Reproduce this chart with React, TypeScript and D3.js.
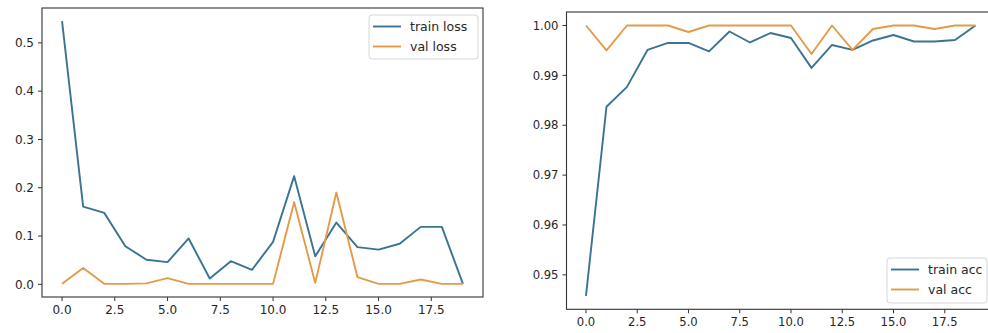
import React from "react";
import * as d3 from "d3";

const epochs = [0, 1, 2, 3, 4, 5, 6, 7, 8, 9, 10, 11, 12, 13, 14, 15, 16, 17, 18, 19];
const trainLoss = [0.545, 0.161, 0.148, 0.079, 0.051, 0.046, 0.095, 0.012, 0.048, 0.030, 0.088, 0.224, 0.058, 0.128, 0.077, 0.072, 0.084, 0.119, 0.119, 0.001];
const valLoss = [0.001, 0.034, 0.001, 0.001, 0.002, 0.013, 0.001, 0.001, 0.001, 0.001, 0.001, 0.170, 0.003, 0.190, 0.015, 0.001, 0.001, 0.010, 0.001, 0.001];
const trainAcc = [0.9458, 0.9837, 0.9877, 0.9951, 0.9965, 0.9965, 0.9948, 0.9988, 0.9966, 0.9985, 0.9975, 0.9915, 0.9961, 0.9951, 0.997, 0.9981, 0.9968, 0.9968, 0.9971, 1.0];
const valAcc = [1.0, 0.995, 1.0, 1.0, 1.0, 0.9987, 1.0, 1.0, 1.0, 1.0, 1.0, 0.9943, 1.0, 0.9951, 0.9993, 1.0, 1.0, 0.9993, 1.0, 1.0];

const xTicks = [0, 2.5, 5, 7.5, 10, 12.5, 15, 17.5];
const lossTicks = [0, 0.1, 0.2, 0.3, 0.4, 0.5];
const accTicks = [0.95, 0.96, 0.97, 0.98, 0.99, 1.0];
const lossLabels = ["train loss", "val loss"];
const accLabels = ["train acc", "val acc"];

const BLUE = "#3a7393";
const ORANGE = "#e39b48";
const FONT = "DejaVu Sans, sans-serif";

function padded(values: number[]): [number, number] {
  const [lo, hi] = d3.extent(values) as [number, number];
  const m = (hi - lo) * 0.05;
  return [lo - m, hi + m];
}

type PanelProps = {
  left: number; top: number; right: number; bottom: number;
  series: number[][]; labels: string[];
  yTicks: number[]; yFmt: string;
  legend: { x: number; y: number; w: number; h: number };
  fontSize: number;
};

function Panel(p: PanelProps) {
  const x = d3.scaleLinear().domain(padded(epochs)).range([p.left, p.right]);
  const y = d3.scaleLinear().domain(padded(p.series.flat())).range([p.bottom, p.top]);
  const line = d3.line<number>().x((_, i) => x(epochs[i])).y((d) => y(d));
  const fmtY = d3.format(p.yFmt);
  const fmtX = d3.format(".1f");
  const colors = [BLUE, ORANGE];
  const tickLen = 4;
  return (
    <g fontFamily={FONT} fontSize={p.fontSize} fill="#262626">
      {p.series.map((s, i) => (
        <path key={i} d={line(s) || ""} fill="none" stroke={colors[i]} strokeWidth={1.9} strokeLinejoin="round" />
      ))}
      <rect x={p.left} y={p.top} width={p.right - p.left} height={p.bottom - p.top} fill="none" stroke="#333" strokeWidth={1.1} />
      {p.yTicks.map((t) => (
        <g key={"y" + t}>
          <line x1={p.left - tickLen} x2={p.left} y1={y(t)} y2={y(t)} stroke="#333" />
          <text x={p.left - tickLen - 4} y={y(t)} dy="0.36em" textAnchor="end">{fmtY(t)}</text>
        </g>
      ))}
      {xTicks.map((t) => (
        <g key={"x" + t}>
          <line x1={x(t)} x2={x(t)} y1={p.bottom} y2={p.bottom + tickLen} stroke="#333" />
          <text x={x(t)} y={p.bottom + tickLen + 4} dy="0.76em" textAnchor="middle">{fmtX(t)}</text>
        </g>
      ))}
      <rect x={p.legend.x} y={p.legend.y} width={p.legend.w} height={p.legend.h} rx={3} fill="#fff" fillOpacity={0.85} stroke="#d6d6d6" />
      {p.labels.map((lab, i) => {
        const ry = p.legend.y + 11.5 + i * 20;
        return (
          <g key={lab}>
            <line x1={p.legend.x + 4} x2={p.legend.x + 32} y1={ry} y2={ry} stroke={colors[i]} strokeWidth={1.9} />
            <text x={p.legend.x + 41} y={ry} dy="0.36em" fontSize={12.5}>{lab}</text>
          </g>
        );
      })}
    </g>
  );
}

export default function App() {
  return (
    <svg width={988} height={333} style={{ position: "absolute", left: 0, top: 0, background: "#fff" }}>
      <rect width={988} height={333} fill="#fff" />
      <Panel left={42} top={8} right={483} bottom={297} series={[trainLoss, valLoss]} labels={lossLabels}
        yTicks={lossTicks} yFmt=".1f" legend={{ x: 369, y: 15, w: 109, h: 44 }} fontSize={12} />
      <Panel left={566.5} top={12} right={995} bottom={309.3} series={[trainAcc, valAcc]} labels={accLabels}
        yTicks={accTicks} yFmt=".2f" legend={{ x: 887, y: 258, w: 100, h: 45 }} fontSize={11.6} />
    </svg>
  );
}
